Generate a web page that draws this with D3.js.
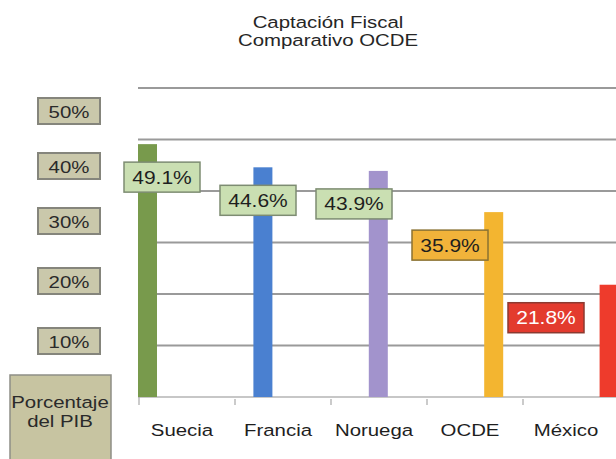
<html>
  <head>
    <meta charset="utf-8">
    <script src="https://d3js.org/d3.v7.min.js"></script>
    <style>
      body { margin: 0; background: #fff; }
      svg text { font-family: "Liberation Sans", Arial, sans-serif; }
    </style>
  </head>

  <body>
    <svg id="vis"></svg>
  </body>

  <script>
    // Data
    var titleLines = ["Captación Fiscal", "Comparativo OCDE"]
    var countries = ["Suecia", "Francia", "Noruega", "OCDE", "México"]
    var values = [49.1, 44.6, 43.9, 35.9, 21.8]
    var tickValues = [50, 40, 30, 20, 10]
    var tickLabels = ["50%", "40%", "30%", "20%", "10%"]
    var axisTitle = ["Porcentaje", "del PIB"]

    var barColors = ["#789a4c", "#4a80d0", "#a293cc", "#f3b530", "#ee3b2c"]
    var boxFills = ["#cadfb2", "#cadfb2", "#cadfb2", "#f1b33a", "#e33b2e"]
    var boxStrokes = ["#7d8c72", "#7d8c72", "#7d8c72", "#8a7232", "#8c3a30"]
    var boxText = ["#1e1e1e", "#1e1e1e", "#1e1e1e", "#1e1e1e", "#fff"]

    var width = 616, height = 459
    // the picture is stretched sideways, so text is widened too
    var stretch = 1.2

    var svg = d3.select('svg')
      .attr("width", width)
      .attr("height", height)

    function place(x, y) {
      return "translate(" + x + "," + y + ") scale(" + stretch + ",1)"
    }

    // scales
    var y = d3.scaleLinear().domain([0, 60]).range([397, 88])
    var xBar = d3.scaleBand().domain(countries).range([138, 715])
    var xAxis = d3.scaleBand().domain(countries).range([139, 619])
    var yLabel = d3.scaleLinear().domain([50, 30, 10]).range([111, 221, 341])
    var color = d3.scaleOrdinal().domain(countries).range(barColors)

    // title
    svg.append("g")
      .selectAll("text")
      .data(titleLines)
      .join("text")
      .attr("transform", function(d, i){ return place(328, 28 + i * 18) })
      .attr("text-anchor", "middle")
      .attr("font-size", "17px")
      .attr("fill", "#262626")
      .text(function(d){ return d })

    // grid lines
    svg.append("g")
      .selectAll("line")
      .data(y.ticks(6).filter(function(d){ return d > 0 }))
      .join("line")
      .attr("x1", 138)
      .attr("x2", width)
      .attr("y1", function(d){ return y(d) })
      .attr("y2", function(d){ return y(d) })
      .attr("stroke", "#9a9a9a")
      .attr("stroke-width", 2)

    // baseline and ticks
    svg.append("line")
      .attr("x1", 138).attr("x2", width)
      .attr("y1", y(0)).attr("y2", y(0))
      .attr("stroke", "#b4b4b4")
      .attr("stroke-width", 1.5)

    svg.append("g")
      .selectAll("line")
      .data(countries)
      .join("line")
      .attr("x1", function(d){ return xAxis(d) })
      .attr("x2", function(d){ return xAxis(d) })
      .attr("y1", function(d, i){ return i === 0 ? y(0) : y(0) + 2 })
      .attr("y2", y(0) + 8)
      .attr("stroke", "#a8a8a8")
      .attr("stroke-width", 1.2)

    // bars
    svg.append("g")
      .selectAll("rect")
      .data(countries)
      .join("rect")
      .attr("x", function(d){ return xBar(d) })
      .attr("width", 19)
      .attr("y", function(d, i){ return y(values[i]) })
      .attr("height", function(d, i){ return y(0) - y(values[i]) })
      .attr("fill", function(d){ return color(d) })

    // category labels
    svg.append("g")
      .selectAll("text")
      .data(countries)
      .join("text")
      .attr("transform", function(d){ return place(xAxis(d) + xAxis.bandwidth() / 2 - 5, 436) })
      .attr("text-anchor", "middle")
      .attr("font-size", "17px")
      .attr("fill", "#1e1e1e")
      .text(function(d){ return d })

    // value label boxes
    var vl = svg.append("g")
      .selectAll("g")
      .data(countries)
      .join("g")
      .attr("transform", function(d, i){
        var cx = xAxis(d) + xAxis.bandwidth() / 2 - 25
        var cy = y(values[i]) + 33
        return "translate(" + cx + "," + cy + ")"
      })

    vl.append("rect")
      .attr("x", -38).attr("y", -15)
      .attr("width", 76).attr("height", 30)
      .attr("fill", function(d, i){ return boxFills[i] })
      .attr("stroke", function(d, i){ return boxStrokes[i] })
      .attr("stroke-width", 1.5)

    vl.append("text")
      .attr("text-anchor", "middle")
      .attr("transform", place(0, 6.5))
      .attr("font-size", "17.5px")
      .attr("fill", function(d, i){ return boxText[i] })
      .text(function(d, i){ return values[i].toFixed(1) + "%" })

    // y tick label boxes
    var tl = svg.append("g")
      .selectAll("g")
      .data(tickValues)
      .join("g")
      .attr("transform", function(d){ return "translate(69," + yLabel(d) + ")" })

    tl.append("rect")
      .attr("x", -31).attr("y", -13)
      .attr("width", 62).attr("height", 26)
      .attr("fill", "#cac8ab")
      .attr("stroke", "#85857c")
      .attr("stroke-width", 2)

    tl.append("text")
      .attr("text-anchor", "middle")
      .attr("transform", place(0, 6.5))
      .attr("font-size", "17px")
      .attr("fill", "#2a2a2a")
      .text(function(d, i){ return tickLabels[i] })

    // axis title box
    svg.append("rect")
      .attr("x", 10).attr("y", 375)
      .attr("width", 101).attr("height", 100)
      .attr("fill", "#c7c4a1")
      .attr("stroke", "#8e8e86")
      .attr("stroke-width", 1.5)

    svg.append("g")
      .selectAll("text")
      .data(axisTitle)
      .join("text")
      .attr("transform", function(d, i){ return place(60, 408 + i * 19) })
      .attr("text-anchor", "middle")
      .attr("font-size", "17px")
      .attr("fill", "#2a2a2a")
      .text(function(d){ return d })
  </script>
</html>
